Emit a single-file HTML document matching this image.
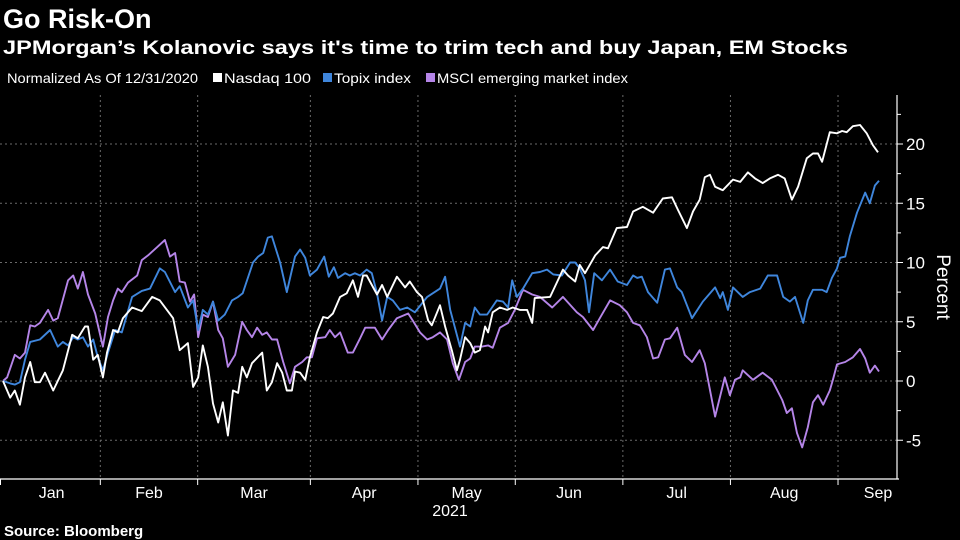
<!DOCTYPE html>
<html><head><meta charset="utf-8"><style>
html,body{margin:0;padding:0;background:#000;}
svg{display:block;font-family:"Liberation Sans",sans-serif;}
</style></head><body>
<svg id="chart" width="960" height="540" viewBox="0 0 960 540">
<rect x="0" y="0" width="960" height="540" fill="#000"/>
<text x="3" y="28" fill="#fff" font-size="27" font-weight="bold">Go Risk-On</text>
<text x="3" y="54" fill="#fff" font-size="19" font-weight="bold" textLength="845" lengthAdjust="spacingAndGlyphs">JPMorgan’s Kolanovic says it's time to trim tech and buy Japan, EM Stocks</text>
<g font-size="14" fill="#fff">
<text x="7" y="83" textLength="191" lengthAdjust="spacingAndGlyphs">Normalized As Of 12/31/2020</text>
<rect x="213" y="73" width="9" height="9" fill="#fff"/>
<text x="224" y="83" textLength="87" lengthAdjust="spacingAndGlyphs">Nasdaq 100</text>
<rect x="323" y="73" width="9" height="9" fill="#3f86dc"/>
<text x="334" y="83" textLength="77" lengthAdjust="spacingAndGlyphs">Topix index</text>
<rect x="426" y="73" width="9" height="9" fill="#b585e8"/>
<text x="437" y="83" textLength="191" lengthAdjust="spacingAndGlyphs">MSCI emerging market index</text>
</g>
<g id="grid"></g>
<g id="series"></g>
<g id="axes"></g>
<text x="450" y="516" fill="#fff" font-size="16" text-anchor="middle">2021</text>
<text x="4" y="536" fill="#fff" font-size="15" font-weight="bold">Source: Bloomberg</text>
<text x="0" y="0" fill="#fff" font-size="19" text-anchor="middle" transform="translate(937,287) rotate(90)">Percent</text>
</svg>
<script>
const yTicks = [-5, 0, 5, 10, 15, 20];
const monthLabels = ["Jan","Feb","Mar","Apr","May","Jun","Jul","Aug","Sep"];
const monthStartDays = [0,19,38,60,81,100,121,142,163];
const lastDay = 171;

const nasdaqDays = [0,1.4,2.3,3.3,4.3,5.3,6.2,7.2,8.2,9.8,11.7,13.5,14.6,16,16.6,17.6,18.5,19.5,20.3,21.5,22.4,23.4,25.2,27.1,29.1,30.6,33.2,34.5,36.1,37.1,38.1,39,40,41,42,42.9,43.9,44.9,45.9,46.7,47.6,48.6,50.6,51.5,52.5,53.5,54.5,55.4,56.4,57,58,59,59.9,61.3,62.5,63.4,64.4,65.8,67.1,68.3,69.3,70.3,71,73,74,75,76.9,78.5,79.4,80.8,81.8,83,83.7,85.3,86.3,87.6,88.6,89.2,90.2,91.2,92.1,93.1,94.1,94.7,95.6,97,98.4,99.5,100.9,102.3,103.3,103.8,106.8,108.1,109.3,110.3,111.7,112.6,113.6,115.6,117.1,118.1,119.8,121.8,123,124.9,126.9,128.8,130.6,131.8,133.5,134.7,136,137,138,139,140.5,142.5,143.9,145.4,146.8,148.3,149.7,151.3,152.6,154,155.2,156.9,158.1,159.1,159.9,161.4,162.8,163.8,164.7,165.9,167.3,168.6,169.8,170.8];
const nasdaqVals = [0,-1.4,-0.8,-2.0,0.3,1.6,-0.1,-0.1,0.7,-0.8,0.9,3.9,3.6,4.6,4.6,1.8,2.2,0.3,2.4,4.3,4.1,5.3,6.2,5.9,7.1,6.8,5.3,2.6,3.2,-0.5,0.3,3.0,1.2,-1.9,-3.5,-1.8,-4.6,-0.8,-1.0,1.2,0.3,1.5,2.4,-0.8,-0.1,1.5,0.7,-0.8,-0.8,0.8,0.7,0.1,2.0,4.1,5.4,5.3,5.7,7.1,7.4,8.5,7.1,8.9,8.9,7.3,8.1,7.1,8.8,7.9,8.4,7.5,7.1,5.1,4.7,6.4,4.6,2.6,0.9,1.8,3.7,3.2,2.4,2.6,4.6,4.1,5.8,6.2,6.0,6.2,6.0,6.0,4.9,7.0,7.1,8.3,9.4,8.9,8.4,9.8,9.1,10.6,11.3,11.2,12.9,13.0,14.3,14.7,14.2,15.4,15.5,14.4,12.9,14.3,15.3,17.2,17.4,16.4,16.1,17.0,16.8,17.6,17.1,16.7,17.1,17.4,17.1,15.3,16.4,18.8,19.2,19.2,18.5,21.0,20.9,21.1,21.0,21.5,21.6,20.9,19.9,19.3];

const topixDays = [0,1.4,2.3,3.3,4.3,5.3,7.2,9.2,10.7,11.7,12.7,13.7,14.6,15.6,16.6,17.6,18.5,19.5,20.5,21.9,23.2,25.2,27.1,28.7,30.6,31.6,33.6,34.5,36.1,37.1,38.1,39,40,41,42,43.3,44.7,45.9,46.8,48.8,49.8,50.8,51.7,52.5,54.1,55.4,57,58,59,59.9,61.3,62.7,63.6,64.6,65.4,66.8,67.7,68.7,69.7,71,72,73,74,75,76.1,77.5,78.9,80.4,82.8,85.3,86.3,87.3,89.2,90.2,91.2,92.1,93.1,94.5,96.4,97.6,98.6,99.4,100.3,101.5,103.3,104.8,106.2,107.4,109.1,110.7,111.7,112.6,113.6,114.4,115.4,116.9,118.5,120,121.8,123,123.8,124.7,125.9,127.7,129.2,130.2,131.6,132.5,134.5,136.6,139,140,140.5,141.5,142.5,144.4,145.8,147.8,149.3,151.1,152.3,153.6,154.6,156.2,157.1,158.1,159.9,160.8,161.8,162.8,163.4,164.4,165.3,166.7,168.3,169.2,170.2,171];
const topixVals = [0,-0.2,-0.3,-0.1,1.8,3.3,3.5,4.3,2.9,3.3,3.0,3.7,3.5,3.7,2.9,3.5,2.0,0.9,2.4,4.3,4.1,7.1,7.6,7.8,9.5,9.2,7.5,8.0,6.2,6.8,4.3,6.0,5.6,6.7,5.1,5.6,6.8,7.1,7.4,10.0,10.5,10.8,12.1,12.2,10.0,7.5,10.5,11.1,10.4,8.9,9.4,10.5,8.8,9.6,8.7,9.1,8.9,9.1,8.9,9.4,9.1,7.4,5.1,7.1,6.8,6.0,6.2,5.8,7.1,7.8,8.8,6.0,2.9,4.9,4.6,6.2,5.6,5.6,6.8,6.7,6.2,8.5,7.1,7.8,9.1,9.2,9.4,9.0,8.9,10.0,10.0,9.5,8.5,5.8,9.1,8.5,9.4,8.4,8.1,8.9,8.7,8.8,7.5,6.6,9.4,9.5,7.9,7.5,5.3,6.7,7.9,7.0,7.5,6.0,7.9,7.1,7.5,7.8,8.9,8.9,7.1,6.7,7.1,4.9,6.8,7.7,7.7,7.5,8.7,9.5,10.4,10.5,12.2,14.2,15.9,15.0,16.5,16.9];

const msciDays = [0,0.8,2.3,3.3,4.3,5.3,6.2,7.2,8.8,9.8,10.7,12.7,13.7,14.6,15.6,16.6,18,19.5,20.5,21.5,22.4,23.2,24.4,26.2,27.1,28.3,30.1,31.6,32.6,33.6,34.5,35.5,36.5,37.3,38.1,39,40,41,42,42.9,43.9,45.3,46.7,47.6,48.6,49.6,50.6,51.5,52.5,53.5,54.7,56,57,58.4,59.3,60.3,61.3,62.9,63.8,64.8,65.8,67.3,68.3,69.7,70.7,72.6,74,75.2,76.9,79.1,80,81.4,82.8,83.9,85.3,86.7,87.8,89,90.2,91.2,92.1,93.5,94.7,95.6,97,98.6,99.9,101.5,103.3,104.8,107.2,109.3,112,113.2,115.2,116.5,118.5,120.4,121.8,123,124.3,125.7,126.9,127.9,129.2,130.2,131.6,133.1,134.5,136,137,139,140.9,141.9,142.9,143.9,144.4,146.4,148.3,150.1,152.1,153,154,155,156,157.1,158.1,159.1,160.1,161.4,162,162.8,164.4,165.9,167.3,168.3,169.2,170.2,171];
const msciVals = [0,0.3,2.2,1.9,2.4,4.7,4.6,4.9,6.0,5.1,5.3,8.5,8.9,7.8,9.2,7.3,5.7,2.9,5.4,6.8,7.8,7.5,8.3,8.9,10.2,10.6,11.3,11.9,10.5,10.8,8.4,8.3,6.7,7.3,3.7,5.6,5.4,6.7,4.3,3.6,1.2,2.2,5.0,4.3,3.7,4.5,3.9,4.1,3.5,3.5,1.6,-0.2,1.2,1.6,2.0,2.0,3.6,3.7,4.3,3.7,4.1,2.4,2.4,3.6,4.5,4.5,3.5,4.3,5.3,5.7,5.1,4.1,3.5,3.7,4.1,3.5,1.5,0.1,1.6,1.9,2.9,2.9,3.0,2.8,4.5,4.9,6.0,7.7,7.3,7.1,6.2,7.1,5.8,5.4,4.3,5.3,6.8,6.4,5.8,4.9,4.7,3.7,1.9,2.0,3.5,3.6,4.5,2.2,1.6,2.6,1.5,-3.0,0.3,-1.2,0.1,0.3,0.9,0.1,0.7,0.1,-1.6,-2.7,-2.3,-4.4,-5.6,-3.9,-1.8,-1.2,-2.0,-0.8,0.1,1.4,1.6,2.0,2.7,1.9,0.7,1.3,0.8];

const NS = "http://www.w3.org/2000/svg";
const X0 = 3, X1 = 879, Y0 = 381, PXU = 11.85;
function xScale(d){ return X0 + (X1 - X0) * d / lastDay; }
function yScale(v){ return Y0 - v * PXU; }
function mk(tag, attrs, parent){
  const e = document.createElementNS(NS, tag);
  for (const k in attrs) e.setAttribute(k, attrs[k]);
  parent.appendChild(e);
  return e;
}
const grid = document.getElementById("grid");
const axes = document.getElementById("axes");
const series = document.getElementById("series");

yTicks.forEach(function(t){
  const y = yScale(t);
  const gl = mk("line", {x1:0, x2:897, y1:y, y2:y, stroke:"#6a6a6a", "stroke-width":1, "stroke-dasharray":"2,3"}, grid);
  
  
  const tk = mk("line", {x1:897, x2:903, y1:y, y2:y, stroke:"#fff", "stroke-width":1}, axes);
  
  
  const lb = mk("text", {x:906, y:y+6, fill:"#fff", "font-size":17}, axes);
  lb.textContent = String(t);
  
  
});
[-2.5,2.5,7.5,12.5,17.5,22.5].forEach(function(t){
  const y = yScale(t);
  const tk = mk("line", {x1:897, x2:901, y1:y, y2:y, stroke:"#fff", "stroke-width":1}, axes);
  
  
});

for (let i = 1; i < monthStartDays.length; i++){
  const x = xScale(monthStartDays[i]);
  const gl = mk("line", {x1:x, x2:x, y1:95, y2:479, stroke:"#6a6a6a", "stroke-width":1, "stroke-dasharray":"2,3"}, grid);
  
  
  const tk = mk("line", {x1:x, x2:x, y1:479, y2:485, stroke:"#fff", "stroke-width":1}, axes);
  
  
}
monthLabels.forEach(function(m, i){
  const a = monthStartDays[i];
  const b = i + 1 < monthStartDays.length ? monthStartDays[i+1] : lastDay;
  let cx = (xScale(a) + xScale(b)) / 2;
  if (i === monthLabels.length - 1) cx = 878;
  const lb = mk("text", {x:cx, y:498, fill:"#fff", "font-size":16, "text-anchor":"middle"}, axes);
  lb.textContent = m;
  
  
});
const xa = mk("line", {x1:0, x2:899, y1:479, y2:479, stroke:"#fff", "stroke-width":1.2}, axes);


const ya = mk("line", {x1:897, x2:897, y1:95, y2:479, stroke:"#fff", "stroke-width":1.2}, axes);


const lt = mk("line", {x1:0.5, x2:0.5, y1:479, y2:485, stroke:"#fff", "stroke-width":1}, axes);



function drawLine(days, vals, color, name){
  const pts = days.map(function(d, i){ return xScale(d).toFixed(1) + "," + yScale(vals[i]).toFixed(1); }).join(" ");
  const p = mk("polyline", {points:pts, fill:"none", stroke:color, "stroke-width":1.9, "stroke-linejoin":"round"}, series);
  
  
}
drawLine(msciDays, msciVals, "#b585e8", "msci-em-line");
drawLine(topixDays, topixVals, "#3f86dc", "topix-line");
drawLine(nasdaqDays, nasdaqVals, "#ffffff", "nasdaq-100-line");
</script>
</body></html>
